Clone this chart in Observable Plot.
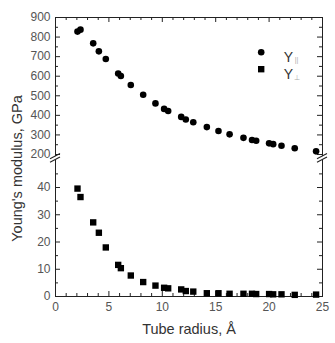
<!DOCTYPE html>
<html><head><meta charset="utf-8">
<script src="https://cdn.jsdelivr.net/npm/d3@7"></script>
<script src="https://cdn.jsdelivr.net/npm/@observablehq/plot@0.6"></script>
<style>body{margin:0;background:#fff;} #chart{width:335px;height:343px;}</style>
</head><body><div id="chart"></div>
<script>
// Tube radius (Å)
const radius = [2.06, 2.34, 3.53, 4.06, 4.71, 5.87, 6.12, 7.05, 8.21, 9.36, 10.17, 10.55, 11.77, 12.2, 12.9, 14.17, 15.26, 16.3, 17.6, 18.4, 18.79, 20.0, 20.38, 21.16, 22.4, 24.4];
// Young's modulus parallel (GPa)
const youngPar = [828, 838, 768, 727, 688, 614, 601, 555, 505, 461, 433, 422, 392, 379, 365, 340, 320, 303, 285, 274, 270, 257, 253, 245, 232, 216];
// Young's modulus perpendicular (GPa)
const youngPerp = [39.6, 36.5, 27.2, 23.4, 18.0, 11.6, 10.4, 7.7, 5.3, 4.0, 3.2, 3.0, 2.6, 2.0, 1.8, 1.2, 1.2, 1.0, 1.0, 1.0, 0.9, 0.9, 0.8, 0.8, 0.6, 0.7];

const xTicks = [0, 5, 10, 15, 20, 25];
const xMinor = [1, 2, 3, 4, 6, 7, 8, 9, 11, 12, 13, 14, 16, 17, 18, 19, 21, 22, 23, 24];
const yTicks = [0, 10, 20, 30, 40, 200, 300, 400, 500, 600, 700, 800, 900];
const yMinor = [5, 15, 25, 35, 45, 250, 350, 450, 550, 650, 750, 850];
const legendSymbols = ["circle", "square"];
const legendMain = ["Y", "Y"];
const legendSub = ["||", "⊥"];
const xLabel = "Tube radius, Å";
const yLabel = "Young's modulus, GPa";

const W = 335, H = 343;
const mL = 55, mR = 13, mT = 17, mB = 47;
const frameW = W - mL - mR, frameH = H - mT - mB;
// broken y axis: lower panel 0–50, upper panel 190–900
const lowK = 109 / 40;    // px per GPa in lower panel
const highK = 137 / 700;  // px per GPa in upper panel
const highBase = frameH - 710 * highK;     // virtual position of 190 GPa
const brk = v => (v <= 120 ? v * lowK : highBase + (v - 190) * highK);

const par = radius.map((r, i) => ({r, v: youngPar[i]}));
const perp = radius.map((r, i) => ({r, v: youngPerp[i]}));

const ink = "#222";
const tickInk = "#555";
const font = "'Liberation Sans', Arial, Helvetica, sans-serif";

function breakMarks(index, scales, values, dims) {
  const y = scales.y;
  const yb = (y(brk(50)) + y(brk(190))) / 2;
  const g = d3.create("svg:g");
  for (const x0 of [dims.marginLeft, dims.width - dims.marginRight]) {
    g.append("rect").attr("x", x0 - 2).attr("y", yb - 1.8).attr("width", 4).attr("height", 3.6).attr("fill", "white");
    for (const off of [-1.8, 1.8]) {
      g.append("line")
        .attr("x1", x0 - 5).attr("y1", yb + off + 2.6)
        .attr("x2", x0 + 5).attr("y2", yb + off - 2.6)
        .attr("stroke", ink).attr("stroke-width", 1.1);
    }
  }
  return g.node();
}

const legendMarks = legendSymbols.flatMap((s, i) => [
  Plot.dot([0], {frameAnchor: "top-right", dx: -61.3, dy: 34.7 + i * 17, symbol: s, r: s === "square" ? 3.6 : 3.3, fill: "black", stroke: "none"}),
  Plot.text([legendMain[i]], {frameAnchor: "top-right", dx: -34, dy: 34.7 + i * 17, fontSize: 14, fill: "#333", textAnchor: "middle"}),
  Plot.text([legendSub[i]], {frameAnchor: "top-right", dx: -26, dy: 40 + i * 17.5, fontSize: 7, fill: "#aaa", textAnchor: "middle"})
]);

const major = 5, minor = 3;
const chart = Plot.plot({
  width: W, height: H,
  marginLeft: mL, marginRight: mR, marginTop: mT, marginBottom: mB,
  style: {fontFamily: font, fontSize: "12px", background: "white", color: tickInk},
  x: {domain: [0, 25]},
  y: {transform: brk, domain: [0, frameH]},
  marks: [
    Plot.frame({stroke: ink}),
    // tick labels
    Plot.axisX(xTicks, {anchor: "bottom", tickSize: 0, tickPadding: 6, label: null, fill: tickInk}),
    Plot.axisY(yTicks, {anchor: "left", tickSize: 0, tickPadding: 5, label: null, fill: tickInk}),
    // inward ticks on bottom / top
    Plot.tickX(xTicks, {x: d => d, insetTop: frameH - major, stroke: ink}),
    Plot.tickX(xMinor, {x: d => d, insetTop: frameH - minor, stroke: ink}),
    Plot.tickX(xTicks, {x: d => d, insetBottom: frameH - major, stroke: ink}),
    Plot.tickX(xMinor, {x: d => d, insetBottom: frameH - minor, stroke: ink}),
    // inward ticks on left / right
    Plot.tickY(yTicks, {y: d => d, insetRight: frameW - major, stroke: ink}),
    Plot.tickY(yMinor, {y: d => d, insetRight: frameW - minor, stroke: ink}),
    Plot.tickY(yTicks, {y: d => d, insetLeft: frameW - major, stroke: ink}),
    Plot.tickY(yMinor, {y: d => d, insetLeft: frameW - minor, stroke: ink}),
    breakMarks,
    Plot.dot(par, {x: "r", y: "v", symbol: "circle", r: 3.3, fill: "black", stroke: "none"}),
    Plot.dot(perp, {x: "r", y: "v", symbol: "square", r: 3.6, fill: "black", stroke: "none"}),
    ...legendMarks,
    Plot.text([xLabel], {frameAnchor: "bottom", dy: 37, lineAnchor: "bottom", fontSize: 14.5, fill: "#333", textAnchor: "middle"}),
    Plot.text([yLabel], {frameAnchor: "left", rotate: -90, dx: -38, dy: 11.5, fontSize: 14.5, fill: "#333", textAnchor: "middle"})
  ]
});
document.getElementById("chart").appendChild(chart);
</script>
</body></html>
